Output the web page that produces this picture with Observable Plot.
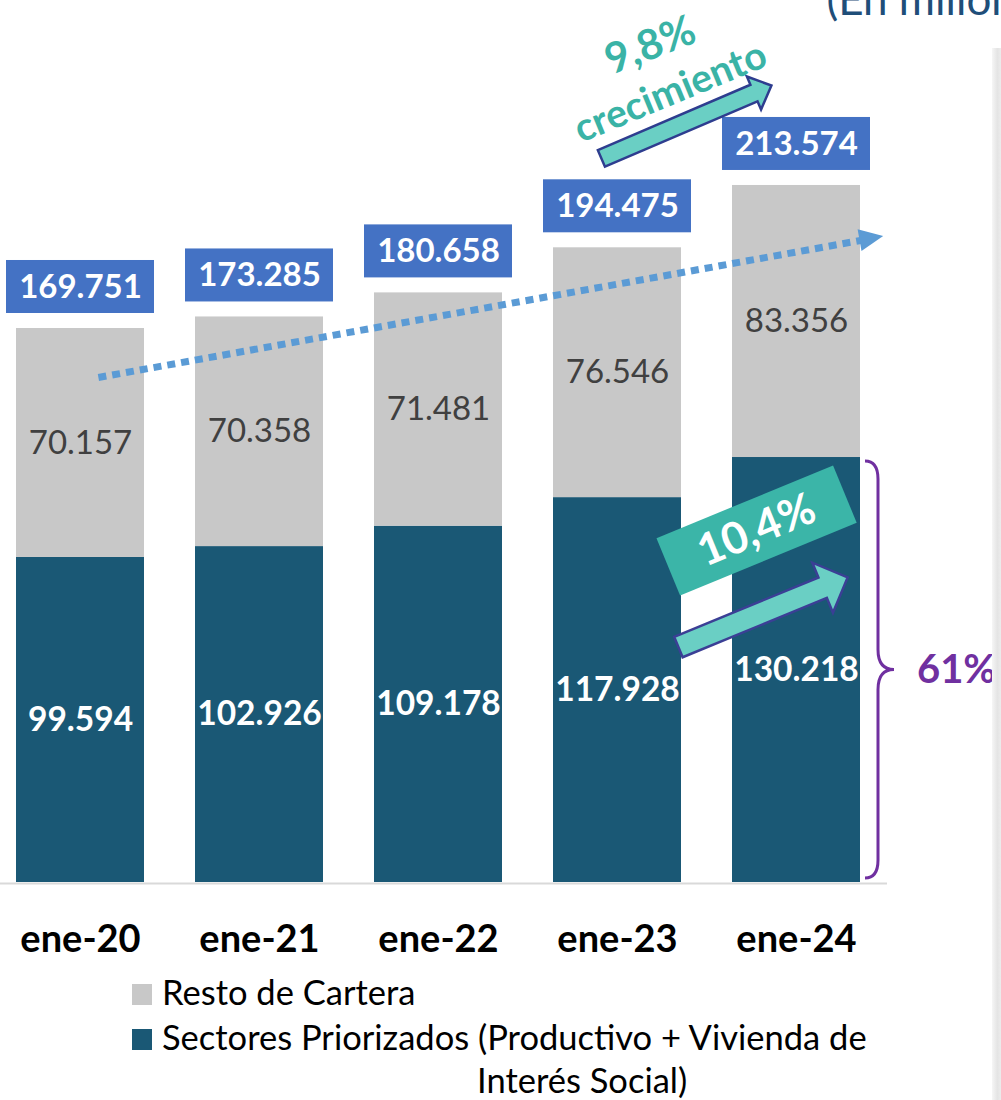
<!DOCTYPE html>
<html>
<head>
<meta charset="utf-8">
<script src="https://cdn.jsdelivr.net/npm/d3@7"></script>
<script src="https://cdn.jsdelivr.net/npm/@observablehq/plot@0.6"></script>
<style>
  html, body { margin: 0; padding: 0; background: #fff; }
  #wrap { position: relative; width: 1001px; height: 1100px; overflow: hidden; font-family: Lato, "Open Sans", sans-serif; }
  .sq { position: absolute; width: 20px; height: 21px; }
  .lt { position: absolute; font-size: 34.5px; line-height: 34.5px; color: #000; white-space: nowrap; }
  #edge { position: absolute; left: 992px; top: 48px; width: 9px; height: 1052px;
          background: linear-gradient(to right, #f6f6f6, #e4e4e4 60%, #ececec); }
</style>
</head>
<body>
<div id="wrap">
  <div id="chart"></div>
  <div id="edge"></div>
  <div class="sq" style="left:132px;top:984px;background:#c8c8c8"></div>
  <div class="lt" id="l1" style="left:162px;top:975px"></div>
  <div class="sq" style="left:132px;top:1029px;background:#1a5875"></div>
  <div class="lt" id="l2" style="left:162px;top:1020px"></div>
  <div class="lt" id="l3" style="left:477px;top:1063px"></div>
</div>
<script>
// ---- data ----
const categories = ["ene-20", "ene-21", "ene-22", "ene-23", "ene-24"];
const priorizados = [99594, 102926, 109178, 117928, 130218];
const resto = [70157, 70358, 71481, 76546, 83356];
const totales = [169751, 173285, 180658, 194475, 213574];
const legendLines = ["Resto de Cartera", "Sectores Priorizados (Productivo + Vivienda de", "Interés Social)"];
const growthTexts = ["9,8%", "crecimiento", "10,4%", "61%"];
const unitsText = "(En millones de Bs)";

// annotation anchors (category index, value)
const trendLine = [{i: 0.10, v: 154740}, {i: 4.358, v: 196720}];
const trendHead = [{i: 4.405, v: 197330}];
const arrowTop = [{i: 3.385, v: 233030}];
const arrowLow = [{i: 3.813, v: 82810}];
const boxMid = [{i: 3.777, v: 107860}];

const fmtLocale = d3.formatLocale({decimal: ",", thousands: ".", grouping: [3], currency: ["", ""]});
const fmt = fmtLocale.format(",d");

const rows = categories.map((c, i) => ({i, c, p: priorizados[i], r: resto[i], t: totales[i]}));

const hw = 64 / 179;   // bar half width in index units
const bw = 74 / 179;   // label box half width

function rotPts(pts, deg) {
  const a = deg * Math.PI / 180, c = Math.cos(a), s = Math.sin(a);
  return pts.map(([x, y]) => [x * c - y * s, x * s + y * c]);
}
function polySymbol(pts, deg) {
  const r = rotPts(pts, deg);
  return {draw(ctx) {
    ctx.moveTo(r[0][0], r[0][1]);
    for (let k = 1; k < r.length; k++) ctx.lineTo(r[k][0], r[k][1]);
    ctx.closePath();
  }};
}
function blockArrow(L, w, h, hl, deg) {
  const a = -L / 2, b = L / 2;
  return polySymbol([[a, -w], [b - hl, -w], [b - hl, -h], [b, 0], [b - hl, h], [b - hl, w], [a, w]], deg);
}
function rectSym(L, H, deg) {
  return polySymbol([[-L/2, -H/2], [L/2, -H/2], [L/2, H/2], [-L/2, H/2]], deg);
}
function triSym(len, half, deg) {
  return polySymbol([[len * 0.6, 0], [-len * 0.4, -half], [-len * 0.4, half]], deg);
}

// curly brace for the Priorizados share of ene-24
function brace(index, scales) {
  const last = rows[rows.length - 1];
  const x0 = scales.x(last.i + hw) + 5;
  const xs = x0 + 13, xt = x0 + 29;
  const yt = scales.y(last.p) + 4, yb = scales.y(0) - 4, ym = (yt + yb) / 2;
  const p = d3.path();
  p.moveTo(x0, yt);
  p.quadraticCurveTo(xs, yt, xs, yt + 18);
  p.lineTo(xs, ym - 20);
  p.quadraticCurveTo(xs, ym, xt, ym);
  p.quadraticCurveTo(xs, ym, xs, ym + 20);
  p.lineTo(xs, yb - 18);
  p.quadraticCurveTo(xs, yb, x0, yb);
  const path = document.createElementNS("http://www.w3.org/2000/svg", "path");
  path.setAttribute("d", p.toString());
  path.setAttribute("fill", "none");
  path.setAttribute("stroke", "#7030A0");
  path.setAttribute("stroke-width", "3");
  return path;
}

const yMax = 270250;

const chart = Plot.plot({
  width: 1001,
  height: 965,
  marginTop: 0,
  marginBottom: 83,
  marginLeft: 0,
  marginRight: 0,
  style: {fontFamily: "Lato, 'Open Sans', sans-serif", background: "transparent", overflow: "hidden"},
  x: {domain: [-80 / 179, 921 / 179], axis: null},
  y: {domain: [0, yMax], axis: null},
  marks: [
    Plot.rect(rows, {x1: d => d.i - hw, x2: d => d.i + hw, y1: 0, y2: "p", fill: "#1a5875"}),
    Plot.rect(rows, {x1: d => d.i - hw, x2: d => d.i + hw, y1: "p", y2: "t", fill: "#c8c8c8"}),
    Plot.ruleY([0], {x1: -80 / 179, x2: 807 / 179, stroke: "#d9d9d9", strokeWidth: 2, dy: 1}),
    Plot.line(trendLine, {x: "i", y: "v", stroke: "#5B9BD5", strokeWidth: 7, strokeDasharray: "8 6", strokeLinecap: "butt"}),
    Plot.dot(trendHead, {x: "i", y: "v", r: 1, symbol: triSym(24, 11, -10.2), fill: "#5B9BD5", stroke: "none"}),
    Plot.rect(rows, {x1: d => d.i - bw, x2: d => d.i + bw, y1: "t", y2: "t", insetTop: -68, insetBottom: 15, fill: "#4472C4"}),
    Plot.text(rows, {x: "i", y: "t", dy: -41.5, text: d => fmt(d.t), fill: "#fff", fontWeight: "bold", fontSize: 33}),
    Plot.text(rows, {x: "i", y: d => d.p + d.r / 2, text: d => fmt(d.r), fill: "#404040", fontSize: 33}),
    Plot.text(rows, {x: "i", y: d => d.p / 2, text: d => fmt(d.p), fill: "#fff", fontWeight: "bold", fontSize: 33.5}),
    Plot.text(rows, {x: "i", y: 0, dy: 57, text: "c", fill: "#000", fontWeight: "bold", fontSize: 38}),
    Plot.dot(boxMid, {x: "i", y: "v", r: 1, symbol: rectSym(191, 62, -22.4), fill: "#3BB5A8", stroke: "none"}),
    Plot.text(boxMid, {x: "i", y: "v", text: [growthTexts[2]], fill: "#fff", fontWeight: "bold", fontSize: 44, rotate: -22.4}),
    Plot.dot(arrowLow, {x: "i", y: "v", r: 1, symbol: blockArrow(183, 11, 27, 27, -22.4), fill: "#6ACFC4", stroke: "#3B3F95", strokeWidth: 2.5}),
    Plot.dot(arrowTop, {x: "i", y: "v", r: 1, symbol: blockArrow(185, 9, 18, 19, -23.2), fill: "#6ACFC4", stroke: "#2E3D8F", strokeWidth: 2.5}),
    Plot.text([{i: 3.184, v: 256470}], {x: "i", y: "v", text: [growthTexts[0]], fill: "#3AB3A6", fontWeight: "bold", fontSize: 42, rotate: -21}),
    Plot.text([{i: 3.296, v: 242070}], {x: "i", y: "v", text: [growthTexts[1]], fill: "#3AB3A6", fontWeight: "bold", fontSize: 39, rotate: -22.5}),
    brace,
    Plot.text([{i: 4.894, v: priorizados[4] / 2}], {x: "i", y: "v", text: [growthTexts[3]], fill: "#7030A0", fontWeight: "bold", fontSize: 40}),
    Plot.text([{i: 746 / 179, v: yMax}], {x: "i", y: "v", dy: 14, lineAnchor: "bottom", textAnchor: "start", text: [unitsText], fill: "#1F4E79", fontSize: 44})
  ]
});
document.getElementById("chart").appendChild(chart);
document.getElementById("l1").textContent = legendLines[0];
document.getElementById("l2").textContent = legendLines[1];
document.getElementById("l3").textContent = legendLines[2];
</script>
</body>
</html>
